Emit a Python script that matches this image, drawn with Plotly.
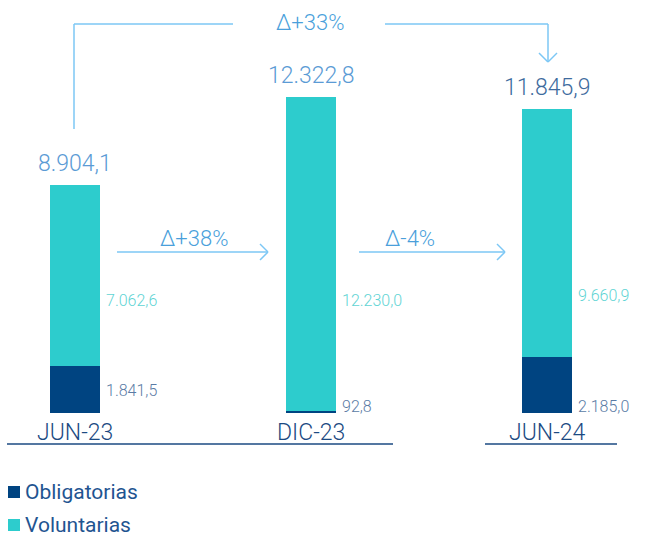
import plotly.graph_objects as go

# ---- data ----
categories = ["JUN-23", "DIC-23", "JUN-24"]
obligatorias = [1841.5, 92.8, 2185.0]
voluntarias = [7062.6, 12230.0, 9660.9]
totales = [8904.1, 12322.8, 11845.9]
obl_labels = ["1.841,5", "92,8", "2.185,0"]
vol_labels = ["7.062,6", "12.230,0", "9.660,9"]
tot_labels = ["8.904,1", "12.322,8", "11.845,9"]
deltas = ["Δ+38%", "Δ-4%"]
delta_total = "Δ+33%"
series_names = ["Obligatorias", "Voluntarias"]

# ---- style ----
W, H = 646, 545
NAVY = "#004481"
TEAL = "#2DCCCD"
ARROW = "#7CC7F5"
FONT = "Roboto"
UNITS_PER_PX = 39.0
BASE_PX = 413

def px(x):
    return x / W

def py(y):
    return 1 - y / H

fig = go.Figure()
fig.add_trace(go.Bar(x=categories, y=obligatorias, name=series_names[0],
                     marker=dict(color=NAVY, line=dict(width=0)), width=0.212,
                     showlegend=False))
fig.add_trace(go.Bar(x=categories, y=voluntarias, name=series_names[1],
                     marker=dict(color=TEAL, line=dict(width=0)), width=0.212,
                     showlegend=False))

ann = []
tot_colors = ["#5B9BD5", "#5B9BD5", "#3E6B9E"]
dark_y_px = [390, 406, 406]
vol_y_px = [300, 300, 295]
for i, c in enumerate(categories):
    ann.append(dict(x=c, y=totales[i], xref="x", yref="y", text=tot_labels[i],
                    showarrow=False, xanchor="center", yanchor="bottom", yshift=6,
                    font=dict(family=FONT, size=23, color=tot_colors[i], weight=300)))
    ann.append(dict(x=c, y=py(vol_y_px[i]), xref="x", yref="paper", text=vol_labels[i],
                    showarrow=False, xanchor="left", yanchor="middle", xshift=29,
                    font=dict(family=FONT, size=16, color="#5FD4D4", weight=300)))
    ann.append(dict(x=c, y=py(dark_y_px[i]), xref="x", yref="paper", text=obl_labels[i],
                    showarrow=False, xanchor="left", yanchor="middle", xshift=29,
                    font=dict(family=FONT, size=16, color="#5A7BA5", weight=300)))
    ann.append(dict(x=c, y=py(432), xref="x", yref="paper", text=c,
                    showarrow=False, xanchor="center", yanchor="middle",
                    font=dict(family=FONT, size=23, color="#1B4A82", weight=300)))

# delta labels
for txt, xx, yy in [(deltas[0], 194, 238), (deltas[1], 410, 238), (delta_total, 310, 22)]:
    ann.append(dict(x=px(xx), y=py(yy), xref="paper", yref="paper", text=txt,
                    showarrow=False, xanchor="center", yanchor="middle",
                    font=dict(family=FONT, size=22, color="#4A9FDB", weight=300)))

# legend (custom)
leg_y = [492, 525]
leg_colors = [NAVY, TEAL]
shapes = []
for name, yy, col in zip(series_names, leg_y, leg_colors):
    shapes.append(dict(type="rect", xref="paper", yref="paper",
                       x0=px(8), x1=px(20), y0=py(yy - 6), y1=py(yy + 6),
                       fillcolor=col, line=dict(width=0)))
    ann.append(dict(x=px(23), y=py(yy), xref="paper", yref="paper", text=name,
                    showarrow=False, xanchor="left", yanchor="middle",
                    font=dict(family=FONT, size=21, color="#1F5591", weight=400)))

def line(x0, y0, x1, y1, color=ARROW, w=1.5):
    return dict(type="line", xref="paper", yref="paper",
                x0=px(x0), y0=py(y0), x1=px(x1), y1=py(y1),
                line=dict(color=color, width=w))

# horizontal arrows
for (xa, xb) in [(117, 268), (359, 505)]:
    shapes.append(line(xa, 252, xb, 252))
    shapes.append(line(xb - 8, 244, xb, 252))
    shapes.append(line(xb - 8, 260, xb, 252))

# top bracket
shapes.append(line(74, 129, 74, 24))
shapes.append(line(74, 24, 233, 24))
shapes.append(line(385, 24, 548, 24))
shapes.append(line(548, 24, 548, 62))
shapes.append(line(539, 53, 548, 62))
shapes.append(line(557, 53, 548, 62))

# baselines
shapes.append(line(7, 444, 393, 444, color="#1B4A82", w=1.5))
shapes.append(line(485, 444, 617, 444, color="#1B4A82", w=1.5))

ymax = BASE_PX * UNITS_PER_PX
ymin = -(H - BASE_PX) * UNITS_PER_PX

fig.update_layout(
    width=W, height=H,
    margin=dict(l=0, r=0, t=0, b=0),
    paper_bgcolor="white", plot_bgcolor="white",
    barmode="stack",
    xaxis=dict(range=[-0.318, 2.42], visible=False, fixedrange=True),
    yaxis=dict(range=[ymin, ymax], visible=False, fixedrange=True),
    annotations=ann, shapes=shapes,
    font=dict(family=FONT),
    showlegend=False,
)

fig.write_html("out.html", config={"displayModeBar": False},
               post_script="document.body.style.margin='0';document.body.style.overflow='hidden';")
